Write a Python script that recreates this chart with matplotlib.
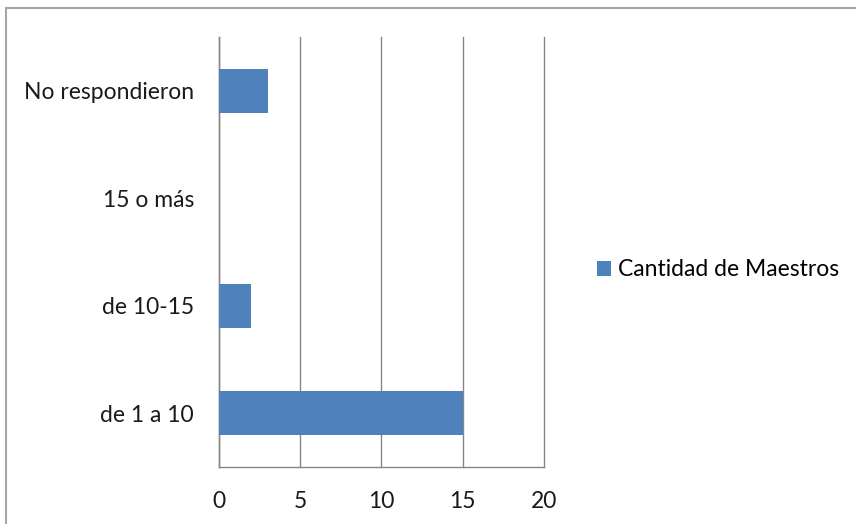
import matplotlib
matplotlib.use('Agg')
import matplotlib.pyplot as plt
from matplotlib.patches import Rectangle

categorias = ["de 1 a 10", "de 10-15", "15 o más", "No respondieron"]
maestros = [15, 2, 0, 3]
xticks = [0, 5, 10, 15, 20]
serie = "Cantidad de Maestros"

plt.rcParams['font.family'] = ['Lato', 'DejaVu Sans']

fig = plt.figure(figsize=(8.56, 5.24), dpi=100)
ax = fig.add_axes([0.2558, 0.1088, 0.3797, 0.8206])

ax.barh(range(len(categorias)), maestros, height=0.41,
        color='#4F81BD', label=serie, zorder=3)

ax.set_xlim(0, 20)
ax.set_ylim(-0.5, len(categorias) - 0.5)
ax.set_xticks(xticks)
ax.set_yticks(range(len(categorias)))
ax.set_yticklabels(categorias)
ax.tick_params(axis='both', length=0, labelsize=16.5, colors='#1a1a1a')
ax.tick_params(axis='y', pad=18)
ax.tick_params(axis='x', pad=17)
ax.grid(axis='x', color='#868686', linewidth=1.0, zorder=0)
for gl in ax.get_xgridlines():
    gl.set_clip_on(False)

for side in ('top', 'right'):
    ax.spines[side].set_visible(False)
for side in ('left', 'bottom'):
    ax.spines[side].set_color('#868686')
    ax.spines[side].set_linewidth(1.0)

fig.legend(loc='center left', bbox_to_anchor=(0.698, 0.485), frameon=False,
           fontsize=16.5, handlelength=0.6, handleheight=0.6,
           handletextpad=0.3, borderpad=0, borderaxespad=0)

# marco del grafico
fig.patches.append(Rectangle((6 / 856, -0.05), 1.0, 1 - 8 / 524 + 0.05,
                             transform=fig.transFigure, fill=False,
                             edgecolor='#a6a6a6', linewidth=1.5))

fig.savefig('out.png', dpi=100)
